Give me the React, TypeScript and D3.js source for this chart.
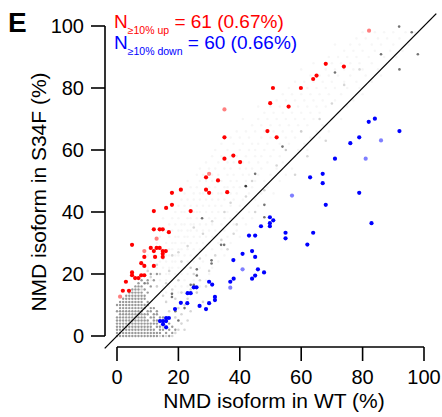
import React, { useEffect, useRef } from 'react';
import * as d3 from 'd3';

const W = 442;
const H = 417;

// splicing events with >=10% increase in S34F (x = WT %, y = S34F %)
const upPoints: [number, number][] = [
  [68.0, 87.8], [73.9, 86.9], [65.0, 84.0], [63.9, 82.9], [50.8, 80.0], [59.9, 80.0],
  [49.9, 75.1], [55.9, 74.0], [35.0, 64.1], [49.0, 66.1], [52.0, 64.1], [35.0, 57.2],
  [37.9, 58.2], [40.1, 56.1], [29.0, 51.2], [32.9, 50.2], [29.0, 47.2], [30.0, 46.2],
  [35.9, 46.4], [20.8, 47.2], [17.9, 46.2], [17.9, 42.3], [16.0, 41.3], [12.0, 40.3],
  [24.0, 40.3], [12.0, 34.4], [13.9, 34.4], [14.9, 34.4], [16.9, 33.5], [4.9, 29.4],
  [11.0, 28.4], [12.9, 28.4], [13.9, 28.4], [12.0, 27.4], [14.9, 27.4], [15.9, 27.4],
  [14.9, 26.5], [14.9, 25.5], [12.4, 25.5], [8.9, 25.5], [7.9, 23.5], [8.9, 22.6],
  [12.0, 22.6], [4.9, 20.5], [4.9, 19.6], [5.9, 18.7], [7.0, 18.7], [7.9, 19.6],
  [8.9, 19.6], [2.9, 17.5], [1.9, 14.6], [3.9, 14.6],
];
const upFaded: [number, number][] = [
  [82.1, 98.5], [35.0, 73.1], [30.0, 52.3], [12.9, 31.4], [8.9, 27.4], [1.0, 12.7],
];

// splicing events with >=10% decrease in S34F
const downPoints: [number, number][] = [
  [82.0, 69.1], [84.0, 70.1], [92.0, 66.1], [78.9, 64.1], [76.0, 62.2], [71.0, 57.2],
  [62.9, 51.2], [67.0, 52.3], [67.0, 49.3], [68.0, 42.3], [78.9, 46.2], [82.9, 36.4],
  [49.8, 38.3], [50.9, 37.3], [49.8, 36.4], [49.8, 35.4], [46.9, 35.4], [54.9, 33.3],
  [54.9, 31.5], [63.9, 33.3], [43.0, 32.4], [45.0, 32.4], [62.0, 29.5], [40.9, 26.5],
  [44.0, 27.4], [45.0, 25.5], [37.9, 24.5], [45.9, 21.5], [47.9, 20.5], [45.0, 19.5],
  [44.0, 18.5], [38.0, 18.5], [36.9, 17.5], [30.0, 17.5], [31.0, 16.6], [31.9, 12.6],
  [31.9, 11.6], [30.0, 10.6], [29.0, 8.7], [25.0, 15.7], [25.9, 15.7], [23.0, 13.8],
  [24.0, 13.8], [20.8, 10.7], [22.9, 10.6], [26.9, 9.7], [18.9, 8.7], [14.0, 4.8],
  [15.0, 4.8], [16.0, 4.8], [16.0, 5.8], [16.9, 5.8], [16.0, 2.8], [15.0, 3.8],
];
const downFaded: [number, number][] = [
  [86.0, 63.1], [81.0, 57.2], [57.0, 45.3], [40.9, 21.5], [36.9, 15.6],
];

// unchanged events: dense low-value block, [S34F %, WT % values]
const greyDenseRows: [number, number[]][] = [
  [0, [0, 1, 2, 3, 4, 5, 6, 7, 8, 9, 10, 11, 12, 13, 15, 17]],
  [1, [0, 1, 2, 3, 4, 5, 6, 7, 8, 9, 10, 11, 12, 13, 14, 16, 18]],
  [2, [0, 1, 2, 3, 4, 5, 6, 7, 8, 9, 10, 11, 12, 14, 15, 17, 19]],
  [3, [0, 1, 2, 3, 4, 5, 6, 7, 8, 9, 10, 11, 13, 14, 16, 18]],
  [4, [0, 1, 2, 3, 4, 5, 6, 7, 8, 9, 10, 11, 12, 13, 17]],
  [5, [0, 1, 2, 3, 4, 5, 6, 7, 8, 9, 10, 12, 13, 14]],
  [6, [0, 1, 2, 3, 4, 5, 6, 7, 8, 9, 11, 12, 14, 15]],
  [7, [1, 2, 3, 4, 5, 6, 7, 8, 9, 10, 12, 13]],
  [8, [0, 1, 2, 3, 4, 5, 6, 7, 8, 10, 11, 13]],
  [9, [1, 2, 3, 4, 5, 6, 7, 8, 9, 11, 12]],
  [10, [0, 1, 2, 3, 4, 5, 6, 7, 8, 9, 10]],
  [11, [1, 2, 3, 4, 5, 6, 7, 8, 10]],
  [12, [2, 3, 4, 5, 6, 7, 8, 9]],
  [13, [3, 4, 5, 6, 7, 8, 9]],
  [14, [4, 5, 6, 7, 8, 10]],
  [15, [5, 6, 7, 9]],
  [16, [6, 7, 8, 11]],
  [17, [7, 9, 10]],
  [18, [8, 10, 12]],
  [20, [11, 13]],
];

// unchanged events, medium shade
const greyMid: [number, number][] = [
  [14, 0], [16, 0], [18, 0], [19, 1], [20, 2], [22, 2], [15, 3], [21, 4], [23, 5], [16, 5],
  [19, 6], [21, 7], [24, 8], [17, 8], [20, 9], [22, 10], [16, 11], [19, 12], [23, 12], [15, 13],
  [21, 14], [18, 15], [24, 15], [13, 16], [16, 17], [20, 18], [9, 17], [11, 19], [14, 20], [17, 21],
  [8, 15], [10, 21], [13, 23], [15, 25], [18, 26], [21, 24], [25, 20], [27, 18], [26, 14], [28, 11],
  [29, 16], [24, 22], [20, 27], [23, 29], [27, 25], [30, 21], [32, 26], [34, 31], [28, 33], [25, 35],
  [36, 28], [38, 33], [31, 37], [35, 40], [39, 36], [42, 45], [37, 43], [45, 40], [44, 50], [48, 47],
  [52, 55], [55, 60], [58, 52], [60, 66], [66, 70], [70, 75], [74, 81], [79, 86], [62, 58], [68, 63],
];

// unchanged events, isolated darker dots
const greyDark: [number, number][] = [
  [91.9, 99.8], [96, 98], [86, 90.9], [98, 90.9], [92, 86], [71, 85], [53.9, 61.1], [45, 52.3],
  [42, 48.3], [48, 42.3], [48, 38.3], [33.9, 29.4], [34.9, 29.4], [30.8, 24.4], [30.8, 23.4],
  [26, 21.5], [26, 19.5], [24, 16.5], [25, 16.5], [17.9, 13.6], [17.9, 12.6], [41.9, 48.4],
  [27.7, 38], [22, 9], [20, 5], [19, 8],
];

// unchanged events, faint scatter, [S34F %, WT % values]
const greyFaintRows: [number, number[]][] = [
  [14, [16, 18, 20, 22, 24, 26]],
  [16, [13, 15, 17, 19, 21, 23, 27]],
  [18, [11, 14, 16, 18, 20, 22, 25, 29]],
  [20, [12, 14, 16, 17, 19, 21, 23, 26, 30]],
  [22, [10, 13, 15, 17, 18, 20, 22, 24, 27, 31]],
  [24, [11, 14, 16, 18, 19, 21, 23, 25, 28, 33]],
  [26, [10, 12, 16, 17, 19, 20, 22, 24, 26, 29, 35]],
  [28, [12, 15, 17, 18, 20, 21, 23, 25, 27, 31, 34]],
  [30, [13, 16, 18, 19, 21, 22, 24, 26, 28, 30, 33, 37]],
  [32, [14, 17, 19, 20, 22, 23, 25, 27, 29, 31, 36, 40]],
  [34, [16, 18, 20, 21, 23, 24, 26, 28, 30, 32, 35, 39]],
  [36, [17, 19, 21, 22, 24, 25, 27, 29, 31, 34, 38, 42]],
  [38, [15, 18, 20, 23, 24, 26, 28, 30, 32, 35, 37, 41, 44]],
  [40, [19, 21, 22, 25, 26, 27, 29, 31, 33, 36, 39, 43]],
  [42, [20, 22, 24, 26, 28, 30, 32, 34, 37, 40, 46]],
  [44, [21, 23, 25, 27, 29, 31, 33, 35, 38, 41, 45]],
  [46, [22, 25, 27, 28, 31, 33, 34, 37, 39, 43, 47, 51]],
  [48, [24, 26, 30, 32, 35, 36, 38, 40, 44, 49]],
  [50, [23, 27, 29, 31, 34, 37, 39, 42, 45, 48, 53]],
  [52, [26, 28, 31, 33, 36, 38, 41, 43, 46, 50, 55]],
  [54, [27, 30, 32, 35, 37, 40, 42, 44, 47, 52, 57]],
  [56, [29, 33, 36, 38, 41, 43, 46, 49, 54]],
  [58, [31, 34, 37, 39, 42, 45, 47, 50, 53, 58]],
  [60, [32, 36, 40, 43, 45, 48, 51, 55, 59, 62]],
  [62, [34, 38, 41, 44, 46, 49, 53, 56, 61]],
  [64, [37, 40, 43, 47, 50, 52, 55, 58, 63, 66]],
  [66, [39, 42, 45, 48, 51, 54, 57, 60, 65, 69]],
  [68, [44, 47, 50, 53, 56, 59, 62, 67]],
  [70, [41, 46, 49, 52, 55, 58, 61, 64, 70, 73]],
  [72, [48, 51, 54, 57, 60, 63, 66, 72]],
  [74, [46, 50, 53, 56, 59, 62, 65, 68, 75]],
  [76, [52, 55, 58, 61, 64, 67, 71, 77]],
  [78, [54, 57, 60, 63, 66, 69, 73, 80]],
  [80, [56, 62, 65, 68, 71, 75, 79]],
  [82, [58, 61, 64, 67, 70, 74, 78, 83]],
  [84, [63, 66, 69, 72, 76, 81, 86]],
  [86, [60, 68, 71, 74, 77, 80, 85]],
  [88, [64, 70, 73, 76, 79, 83, 88]],
  [90, [69, 72, 75, 78, 82, 87, 91]],
  [92, [74, 77, 80, 84, 89, 93]],
  [94, [71, 76, 79, 83, 86, 90, 95]],
  [96, [78, 81, 85, 88, 92]],
  [98, [80, 84, 87, 90, 94, 97]],
];

const ticks = [0, 20, 40, 60, 80, 100];

const unpack = (rows: [number, number[]][]): [number, number][] =>
  rows.flatMap(([yv, xs]) => xs.map(xv => [xv, yv] as [number, number]));

const ScatterE = () => {
  const svgRef = useRef<SVGSVGElement>(null);

  useEffect(() => {
    const svg = d3.select(svgRef.current);
    svg.selectAll('*').remove();

    const x = d3.scaleLinear().domain([0, 100]).range([117, 424]);
    const y = d3.scaleLinear().domain([0, 100]).range([336, 26]);
    const font = 'Liberation Sans, Arial, Helvetica, sans-serif';

    const dots = (data: [number, number][], fill: string, op: number, r: number) => {
      svg.append('g')
        .selectAll('circle')
        .data(data)
        .enter()
        .append('circle')
        .attr('cx', d => x(d[0]))
        .attr('cy', d => y(d[1]))
        .attr('r', r)
        .attr('fill', fill)
        .attr('fill-opacity', op);
    };

    // grey background events
    dots(unpack(greyFaintRows), '#000', 0.035, 1.3);
    dots(greyMid, '#000', 0.16, 1.3);
    dots(unpack(greyDenseRows), '#000', 0.4, 1.2);
    dots(greyDark, '#000', 0.55, 1.3);

    // diagonal y = x
    svg.append('line')
      .attr('x1', x(-4)).attr('y1', y(-4))
      .attr('x2', x(104)).attr('y2', y(104))
      .attr('stroke', '#000')
      .attr('stroke-width', 1.3);

    // significant events
    dots(upFaded, '#ff0000', 0.5, 2.1);
    dots(downFaded, '#0000ff', 0.5, 2.1);
    dots(upPoints, '#ff0000', 1, 2.1);
    dots(downPoints, '#0000ff', 1, 2.1);

    // y axis
    const yAxis = svg.append('g').attr('font-family', font).attr('font-size', 20);
    yAxis.append('line')
      .attr('x1', 105).attr('x2', 105)
      .attr('y1', y(0)).attr('y2', y(100))
      .attr('stroke', '#000').attr('stroke-width', 1.6);
    ticks.forEach(t => {
      yAxis.append('line')
        .attr('x1', 91).attr('x2', 105)
        .attr('y1', y(t)).attr('y2', y(t))
        .attr('stroke', '#000').attr('stroke-width', 1.6);
      yAxis.append('text')
        .attr('x', 84).attr('y', y(t))
        .attr('dy', '0.36em')
        .attr('text-anchor', 'end')
        .text(t);
    });

    // x axis
    const xAxis = svg.append('g').attr('font-family', font).attr('font-size', 20);
    xAxis.append('line')
      .attr('x1', x(0)).attr('x2', x(100))
      .attr('y1', 347).attr('y2', 347)
      .attr('stroke', '#000').attr('stroke-width', 1.6);
    ticks.forEach(t => {
      xAxis.append('line')
        .attr('x1', x(t)).attr('x2', x(t))
        .attr('y1', 347).attr('y2', 361)
        .attr('stroke', '#000').attr('stroke-width', 1.6);
      xAxis.append('text')
        .attr('x', x(t)).attr('y', 384)
        .attr('text-anchor', 'middle')
        .text(t);
    });

    // titles
    svg.append('text')
      .attr('x', 274).attr('y', 408)
      .attr('text-anchor', 'middle')
      .attr('font-family', font).attr('font-size', 21)
      .text('NMD isoform in WT (%)');
    svg.append('text')
      .attr('transform', 'translate(46,192) rotate(-90)')
      .attr('text-anchor', 'middle')
      .attr('font-family', font).attr('font-size', 21)
      .text('NMD isoform in S34F (%)');

    svg.append('text')
      .attr('x', 8).attr('y', 32)
      .attr('font-family', font).attr('font-size', 28).attr('font-weight', 'bold')
      .text('E');

    // counts
    const note = (yy: number, color: string, sub: string, rest: string) => {
      const t = svg.append('text')
        .attr('x', 114).attr('y', yy)
        .attr('font-family', font).attr('font-size', 19)
        .attr('fill', color);
      t.append('tspan').text('N');
      t.append('tspan').attr('font-size', 10.5).attr('dy', 6).text(sub);
      t.append('tspan').attr('dy', -6).text(rest);
    };
    note(28, '#ff0000', '≥10% up', ' = 61 (0.67%)');
    note(49, '#0000ff', '≥10% down', ' = 60 (0.66%)');
  }, []);

  return (
    <svg
      ref={svgRef}
      width={W}
      height={H}
      viewBox={`0 0 ${W} ${H}`}
      style={{ position: 'absolute', left: 0, top: 0, background: '#fff' }}
    />
  );
};

export default function App() {
  return <ScatterE />;
}
